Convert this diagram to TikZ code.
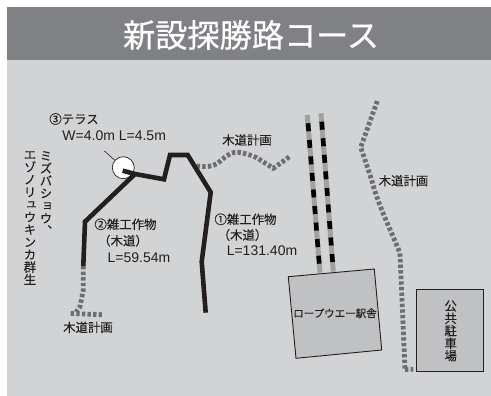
\documentclass[tikz,border=0pt]{standalone}
\usepackage{fontspec}
\setmainfont{Liberation Sans}
\newfontfamily\cjk[FakeBold=0.12]{Noto Sans CJK JP}
\newfontfamily\cjkt[FakeBold=0.5]{Noto Sans CJK JP}
\newfontfamily\cjkv[RawFeature=+vert,FakeBold=0.12]{Noto Sans CJK JP}
\newcommand\tightstack{\baselineskip12.5pt\relax\lineskip0pt\relax\lineskiplimit-20pt\relax}
\definecolor{band}{HTML}{808184}
\definecolor{panel}{HTML}{D1D3D4}
\definecolor{bldg}{HTML}{C0C1C3}
\definecolor{plan}{HTML}{6D6E71}
\definecolor{railg}{HTML}{A0A1A3}
\definecolor{ink}{HTML}{231F20}
\tikzset{
  lbl/.style={text=ink,inner sep=0pt,font=\fontsize{12.4}{15}\selectfont},
  vlbl/.style={text=ink,inner sep=0pt,font=\fontsize{12.4}{12.5}\selectfont\cjkv},
  route/.style={draw=ink,line width=4.6pt,line join=miter},
  planned/.style={draw=plan,line width=4.8pt,dash pattern=on 3.4pt off 2.2pt},
  railbase/.style={draw=railg,line width=5pt},
  railtie/.style={draw=black,line width=4.6pt,dash pattern=on 8pt off 8.6pt},
  bldgbox/.style={draw=ink,fill=bldg,line width=0.9pt}
}
\newcommand\vstack[1]{\parbox{14pt}{\centering\tightstack #1\par}}
\begin{document}
\begin{tikzpicture}[x=1pt,y=-1pt]
\useasboundingbox (0,0) rectangle (491,396);
\fill[panel] (7,60) rectangle (491,396);
\fill[band] (7,7) rectangle (491,60);
\node[inner sep=0pt,text=white,font=\fontsize{32.2}{34}\selectfont\cjkt] (title) at (251,35) {新設探勝路コース};

% planned boardwalks
\draw[planned] (83.3,266) -- (83.3,290) -- (80,306.7) -- (76,312);
\draw[planned] (70.7,313.5) -- (102,314.7);
\draw[planned] (196.7,166) .. controls (206,167) and (212,167) .. (218,163) .. controls (224,158) and (229,153) .. (235,152.3) .. controls (243,152) and (250,155) .. (256.7,157.7) -- (273.3,168.3) -- (291,155.7);
\draw[planned] (377.3,101) -- (360.7,147.3) -- (371.7,180) .. controls (378,205) and (390,228) .. (400,253.3) -- (405,370);
\draw[planned] (405,369.5) -- (413.3,369.3);

% rails
\draw[railbase] (307.3,115) -- (320,272.7);
\draw[railbase] (321,113.3) -- (333.3,271.7);
\draw[railtie] (308,123.3) -- (319.5,267);
\draw[railtie] (321.7,121.7) -- (332.9,266);

% buildings
\draw[bldgbox] (288.3,276.7) -- (374.3,269) -- (381.7,350) -- (296,358.3) -- cycle;
\draw[bldgbox] (416.7,289.3) rectangle (483.3,371.7);
\node[lbl,font=\fontsize{10.5}{14}\selectfont\cjk] (station) at (335,313.3) {ロープウエー駅舎};
\node[vlbl] (parking) at (450.7,331) {\vstack{公\\共\\駐\\車\\場}};

% terrace
\node[circle,draw=ink,fill=white,line width=0.7pt,minimum size=22pt,inner sep=0pt] (terrace) at (123.3,167.7) {};
\coordinate (leader) at (104.3,151);
\draw[ink,line width=0.6pt] (leader) -- (terrace);

% built routes
\draw[route] (122.7,170.7) -- (135,174) -- (164,179.3) -- (170,155) -- (187.7,155) -- (210.7,192.3) -- (201.7,261.7) -- (205.7,312.7);
\draw[route] (135,174) -- (85,221.7) -- (83.3,266);

% labels
\node[lbl,font=\fontsize{12.4}{15}\selectfont\cjk] (t3) at (74,119) {③テラス};
\node[lbl,font=\fontsize{14}{15}\selectfont] (t3b) at (114.2,136) {W=4.0m L=4.5m};
\node[vlbl,anchor=north] (v1) at (46,151) {\vstack{ミ\\ズ\\バ\\シ\\ョ\\ウ\\、}};
\node[vlbl,anchor=north] (v2) at (30,151) {\vstack{エ\\ゾ\\ノ\\リ\\ュ\\ウ\\キ\\ン\\カ\\群\\生}};
\node[lbl,font=\fontsize{12.4}{15}\selectfont\cjk] (a1) at (125.5,224.3) {②雑工作物};
\node[lbl,font=\fontsize{12.4}{15}\selectfont\cjk] (a2) at (123,240.7) {（木道）};
\node[lbl,font=\fontsize{14}{15}\selectfont] (a3) at (139,257.3) {L=59.54m};
\node[lbl,font=\fontsize{12.4}{15}\selectfont\cjk] (b1) at (245.5,219.3) {①雑工作物};
\node[lbl,font=\fontsize{12.4}{15}\selectfont\cjk] (b2) at (242.5,235) {（木道）};
\node[lbl,font=\fontsize{14}{15}\selectfont] (b3) at (262,251) {L=131.40m};
\node[lbl,font=\fontsize{12.4}{15}\selectfont\cjk] (p1) at (88,327.3) {木道計画};
\node[lbl,font=\fontsize{12.4}{15}\selectfont\cjk] (p2) at (247,140) {木道計画};
\node[lbl,font=\fontsize{12.4}{15}\selectfont\cjk] (p3) at (403.5,180.7) {木道計画};
\end{tikzpicture}
\end{document}
